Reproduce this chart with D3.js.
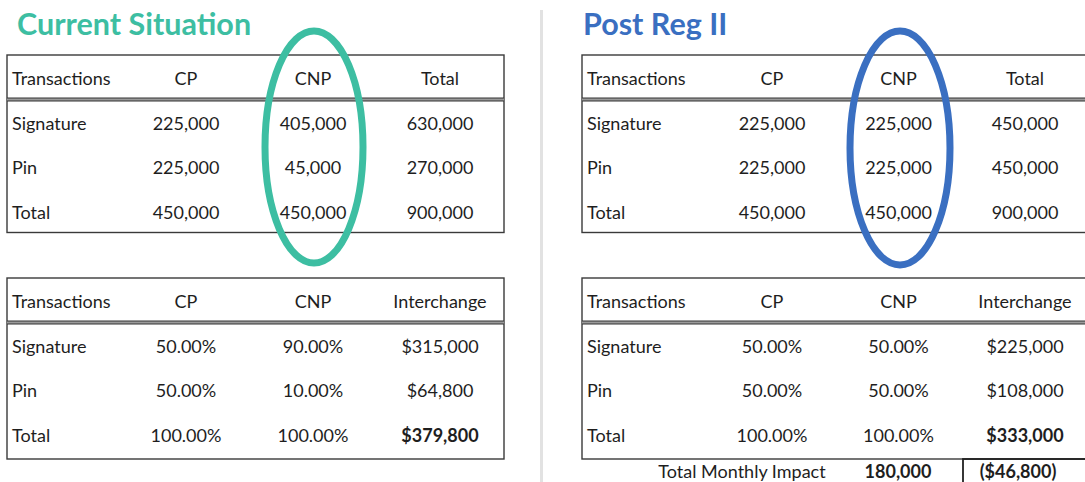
<!DOCTYPE html>
<html>
<head>
<meta charset="utf-8">
<script src="https://cdn.jsdelivr.net/npm/d3@7"></script>
<style>
  body { margin: 0; background: #fff; }
  text { font-family: Lato, "Open Sans", sans-serif; fill: #1e1e1e; }
</style>
</head>
<body>
<div id="chart"></div>
<script>
// row labels and column headers
const rowLabels = ["Signature", "Pin", "Total"];
const volumeCols = ["CP", "CNP", "Total"];
const rateCols = ["CP", "CNP", "Interchange"];

// transaction counts
const currentCP = [225000, 225000, 450000];
const currentCNP = [405000, 45000, 450000];
const currentTotal = [630000, 270000, 900000];
const postCP = [225000, 225000, 450000];
const postCNP = [225000, 225000, 450000];
const postTotal = [450000, 450000, 900000];

// shares and interchange
const currentCPShare = [0.5, 0.5, 1];
const currentCNPShare = [0.9, 0.1, 1];
const currentInterchange = [315000, 64800, 379800];
const postCPShare = [0.5, 0.5, 1];
const postCNPShare = [0.5, 0.5, 1];
const postInterchange = [225000, 108000, 333000];

// monthly impact
const impactVolume = 180000;
const impactInterchange = -46800;

const width = 1085;
const height = 482;

const fmtCount = d3.format(",");
const fmtPct = d3.format(".2%");
const fmtMoney = (v) => (v < 0 ? "($" + d3.format(",")(-v) + ")" : "$" + d3.format(",")(v));

const svg = d3
  .select("#chart")
  .append("svg")
  .attr("width", width)
  .attr("height", height);

// panels: one per scenario
const panels = [
  {
    title: "Current Situation",
    color: "#3dbea2",
    left: 7, right: 504,
    titleX: 17,
    colRange: [186, 440],
    volumes: [currentCP, currentCNP, currentTotal],
    rates: [currentCPShare, currentCNPShare, currentInterchange],
    ellipse: { cx: 314, cy: 147, rx: 49, ry: 116 },
  },
  {
    title: "Post Reg II",
    color: "#3a6fc1",
    left: 582, right: 1110,
    titleX: 583,
    colRange: [772, 1025],
    volumes: [postCP, postCNP, postTotal],
    rates: [postCPShare, postCNPShare, postInterchange],
    ellipse: { cx: 900, cy: 148, rx: 50, ry: 117 },
  },
];

// vertical divider between the two scenarios
svg.append("line")
  .attr("x1", 541.5).attr("x2", 541.5)
  .attr("y1", 10).attr("y2", height)
  .attr("stroke", "#e2e2e2")
  .attr("stroke-width", 3);

// draw a bordered table with a double rule under the header
function drawTable(g, p, top, bottom, baseRange, headers, columns, formats, boldLast) {
  const x = d3.scalePoint().domain(headers).range(p.colRange);
  const y = d3.scalePoint().domain(["head"].concat(rowLabels)).range(baseRange);
  const sep = y("head") + 14.5;

  g.append("rect")
    .attr("x", p.left).attr("y", top)
    .attr("width", p.right - p.left).attr("height", bottom - top)
    .attr("fill", "none")
    .attr("stroke", "#3a3a3a")
    .attr("stroke-width", 1.4);

  g.append("rect")
    .attr("x", p.left).attr("y", sep - 1.5)
    .attr("width", p.right - p.left).attr("height", 3)
    .attr("fill", "#9a9a9a");
  [sep - 1.5, sep + 1.5].forEach((yy) => {
    g.append("line")
      .attr("x1", p.left).attr("x2", p.right)
      .attr("y1", yy).attr("y2", yy)
      .attr("stroke", "#333")
      .attr("stroke-width", 1);
  });

  g.append("text")
    .attr("x", p.left + 5).attr("y", y("head"))
    .attr("font-size", 18)
    .text("Transactions");
  g.selectAll(".hdr")
    .data(headers)
    .enter()
    .append("text")
    .attr("x", (d) => x(d)).attr("y", y("head"))
    .attr("text-anchor", "middle")
    .attr("font-size", 18)
    .text((d) => d);

  g.selectAll(".rowlab")
    .data(rowLabels)
    .enter()
    .append("text")
    .attr("x", p.left + 5).attr("y", (d) => y(d))
    .attr("font-size", 18)
    .text((d) => d);

  columns.forEach((col, ci) => {
    g.selectAll(".c" + ci)
      .data(col)
      .enter()
      .append("text")
      .attr("x", x(headers[ci]))
      .attr("y", (d, i) => y(rowLabels[i]))
      .attr("text-anchor", "middle")
      .attr("font-size", 18)
      .attr("font-weight", (d, i) => (boldLast && ci === columns.length - 1 && i === rowLabels.length - 1 ? "bold" : "normal"))
      .text((d) => formats[ci](d));
  });
}

panels.forEach((p) => {
  const g = svg.append("g");

  g.append("text")
    .attr("x", p.titleX).attr("y", 35)
    .attr("font-size", 30.5)
    .attr("font-weight", "bold")
    .style("fill", p.color)
    .text(p.title);

  drawTable(g, p, 55, 232.5, [85, 219], volumeCols, p.volumes, [fmtCount, fmtCount, fmtCount], false);
  drawTable(g, p, 278, 459, [308, 442], rateCols, p.rates, [fmtPct, fmtPct, fmtMoney], true);

  // circle the CNP column
  g.append("ellipse")
    .attr("cx", p.ellipse.cx).attr("cy", p.ellipse.cy)
    .attr("rx", p.ellipse.rx).attr("ry", p.ellipse.ry)
    .attr("fill", "none")
    .attr("stroke", p.color)
    .attr("stroke-width", 7);
});

// total monthly impact line under the Post Reg II table
const impact = svg.append("g");
impact.append("text")
  .attr("x", 742).attr("y", 478)
  .attr("text-anchor", "middle")
  .attr("font-size", 18)
  .text("Total Monthly Impact");
impact.append("text")
  .attr("x", 898).attr("y", 478)
  .attr("text-anchor", "middle")
  .attr("font-size", 18)
  .attr("font-weight", "bold")
  .text(fmtCount(impactVolume));
impact.append("rect")
  .attr("x", 963).attr("y", 459)
  .attr("width", 200).attr("height", 40)
  .attr("fill", "none")
  .attr("stroke", "#222")
  .attr("stroke-width", 1.8);
impact.append("text")
  .attr("x", 1018).attr("y", 478)
  .attr("text-anchor", "middle")
  .attr("font-size", 18)
  .attr("font-weight", "bold")
  .text(fmtMoney(impactInterchange));
</script>
</body>
</html>
